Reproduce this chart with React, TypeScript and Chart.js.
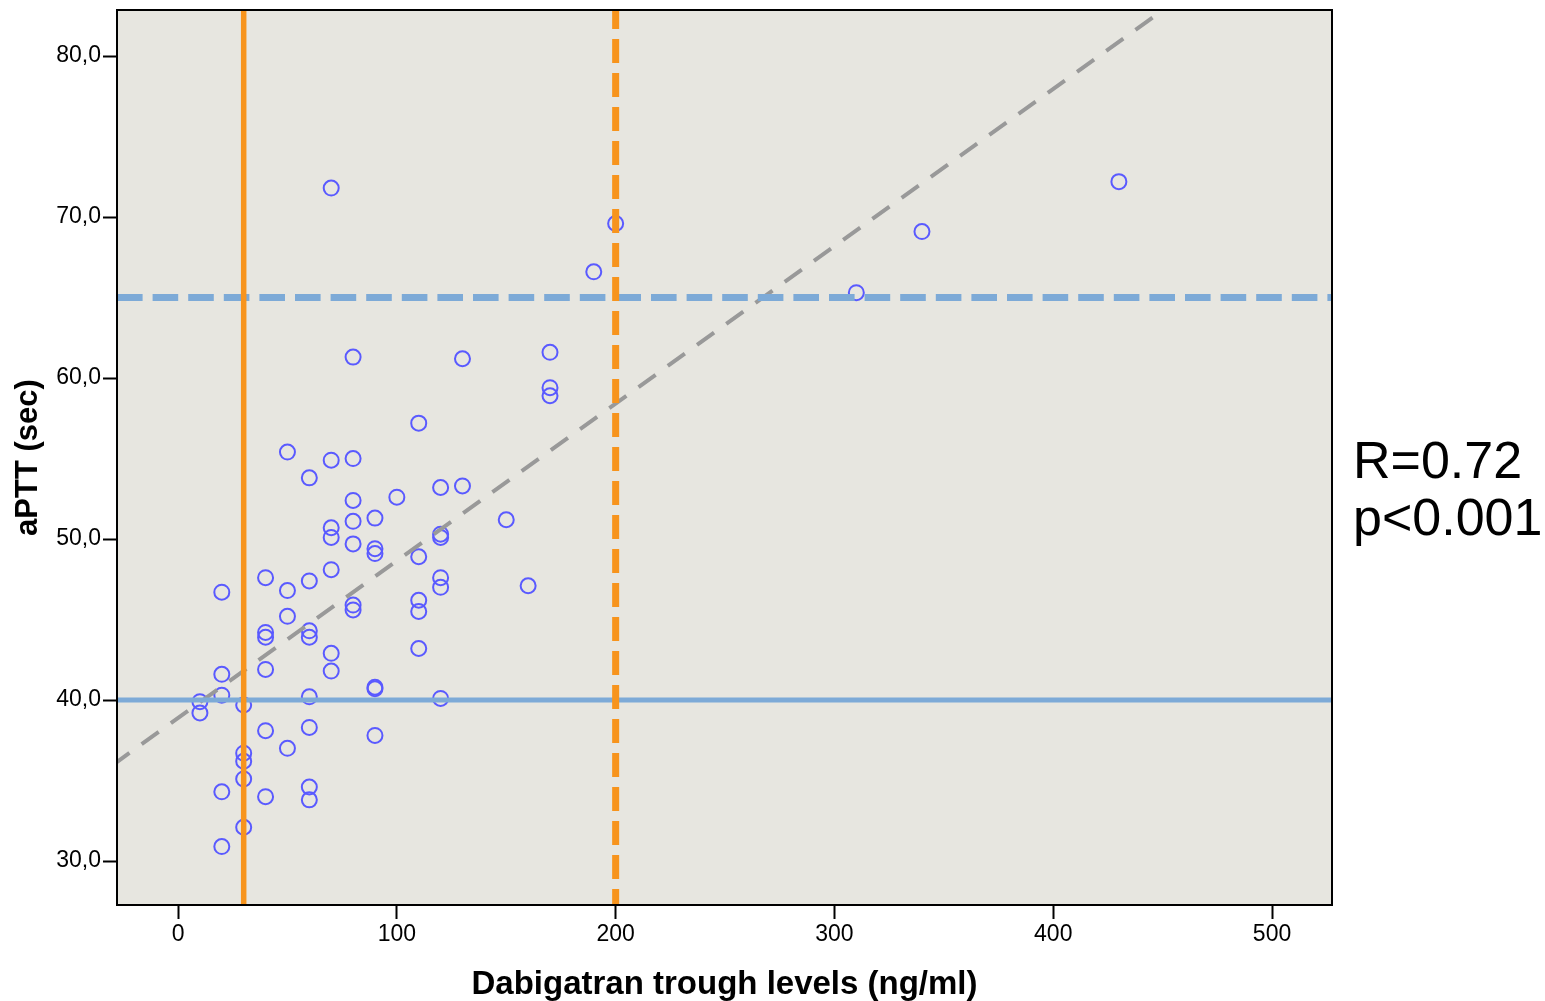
import { useEffect, useRef } from 'react';
import { Chart, registerables } from 'chart.js';

Chart.register(...registerables);

// Dabigatran trough levels (ng/ml) and matching aPTT (sec)
const LEVELS = [
  10, 10,
  20, 20, 20, 20, 20,
  30, 30, 30, 30, 30,
  40, 40, 40, 40, 40, 40,
  50, 50, 50, 50,
  60, 60, 60, 60, 60, 60, 60, 60,
  70, 70, 70, 70, 70, 70, 70,
  80, 80, 80, 80, 80, 80, 80,
  90, 90, 90, 90, 90, 90,
  100,
  110, 110, 110, 110, 110,
  120, 120, 120, 120, 120, 120,
  130, 130,
  150,
  160,
  170, 170, 170,
  190,
  200,
  310,
  340,
  430,
];
const APTT = [
  39.9, 39.2,
  46.7, 41.6, 40.3, 34.3, 30.9,
  39.7, 36.7, 36.2, 35.1, 32.1,
  47.6, 44.2, 43.9, 41.9, 38.1, 34.0,
  55.4, 46.8, 45.2, 37.0,
  53.8, 47.4, 44.3, 43.9, 40.2, 38.3, 34.6, 33.8,
  71.8, 54.9, 50.7, 50.1, 48.1, 42.9, 41.8,
  61.3, 55.0, 52.4, 51.1, 49.7, 45.9, 45.6,
  51.3, 49.4, 49.1, 40.8, 40.7, 37.8,
  52.6,
  57.2, 48.9, 46.2, 45.5, 43.2,
  53.2, 50.3, 50.1, 47.6, 47.0, 40.1,
  61.2, 53.3,
  51.2,
  47.1,
  61.6, 59.4, 58.9,
  66.6,
  69.6,
  65.3,
  69.1,
  72.2,
];

// fit line endpoints
const FIT_X = [-30, 530];
const FIT_Y = [35.95, 90.66];

// reference limits
const LEVEL_LOW = 30;
const LEVEL_HIGH = 200;
const APTT_LOW = 40;
const APTT_HIGH = 65;

const X_TICKS = [0, 100, 200, 300, 400, 500];
const Y_TICKS = [30, 40, 50, 60, 70, 80];
const X_MIN = -27.9;
const X_MAX = 527.4;
const Y_MIN = 27.27;
const Y_MAX = 82.86;

const X_TITLE = 'Dabigatran trough levels (ng/ml)';
const Y_TITLE = 'aPTT (sec)';
const STATS = ['R=0.72', 'p<0.001'];

const FONT = '"Liberation Sans", Arial, Helvetica, sans-serif';
const ORANGE = '#F7941D';
const LIGHT_BLUE = '#7DAAD7';

export default function App() {
  const canvasRef = useRef<HTMLCanvasElement | null>(null);

  useEffect(() => {
    const canvas = canvasRef.current;
    if (!canvas) return;

    const bgPlugin = {
      id: 'plotBg',
      beforeDraw(chart: any) {
        const { ctx, chartArea } = chart;
        ctx.save();
        ctx.fillStyle = '#E7E6E0';
        ctx.fillRect(chartArea.left, chartArea.top, chartArea.right - chartArea.left, chartArea.bottom - chartArea.top);
        ctx.restore();
      },
      afterDraw(chart: any) {
        const { ctx, chartArea } = chart;
        ctx.save();
        ctx.strokeStyle = '#000';
        ctx.lineWidth = 2;
        ctx.strokeRect(chartArea.left, chartArea.top, chartArea.right - chartArea.left, chartArea.bottom - chartArea.top);
        ctx.fillStyle = '#000';
        ctx.font = `52px ${FONT}`;
        ctx.textAlign = 'left';
        ctx.textBaseline = 'alphabetic';
        ctx.fillText(STATS[0], chartArea.right + 21, 478);
        ctx.fillText(STATS[1], chartArea.right + 21, 535);
        ctx.restore();
      },
    };

    const points = LEVELS.map((x, i) => ({ x, y: APTT[i] }));

    const chart = new Chart(canvas, {
      type: 'scatter',
      data: {
        datasets: [
          {
            label: 'lower level',
            data: [{ x: LEVEL_LOW, y: Y_MIN }, { x: LEVEL_LOW, y: Y_MAX }],
            showLine: true,
            borderColor: ORANGE,
            borderWidth: 5.5,
            pointRadius: 0,
            clip: 0,
            order: 0,
          },
          {
            label: 'upper level',
            data: [{ x: LEVEL_HIGH, y: Y_MAX }, { x: LEVEL_HIGH, y: Y_MIN }],
            showLine: true,
            borderColor: ORANGE,
            borderWidth: 7,
            borderDash: [24, 10],
            borderDashOffset: 5,
            pointRadius: 0,
            clip: 0,
            order: 0,
          },
          {
            label: 'upper aPTT',
            data: [{ x: X_MIN, y: APTT_HIGH }, { x: X_MAX, y: APTT_HIGH }],
            showLine: true,
            borderColor: LIGHT_BLUE,
            borderWidth: 7,
            borderDash: [25.6, 10],
            pointRadius: 0,
            clip: 0,
            order: 0,
          },
          {
            label: 'lower aPTT',
            data: [{ x: X_MIN, y: APTT_LOW }, { x: X_MAX, y: APTT_LOW }],
            showLine: true,
            borderColor: LIGHT_BLUE,
            borderWidth: 5,
            pointRadius: 0,
            clip: 0,
            order: 0,
          },
          {
            label: 'fit',
            data: FIT_X.map((x, i) => ({ x, y: FIT_Y[i] })),
            showLine: true,
            borderColor: '#999999',
            borderWidth: 4,
            borderDash: [21, 15],
            pointRadius: 0,
            clip: 0,
            order: 1,
          },
          {
            label: 'patients',
            data: points,
            showLine: false,
            pointRadius: 7.5,
            pointBorderWidth: 2,
            pointBorderColor: '#5A5AFF',
            pointBackgroundColor: 'rgba(0,0,0,0)',
            pointHoverRadius: 7.5,
            order: 2,
          },
        ],
      },
      options: {
        animation: false,
        responsive: false,
        events: [],
        layout: { padding: { top: 10, right: 213, bottom: 0, left: 0 } },
        plugins: {
          legend: { display: false },
          tooltip: { enabled: false },
          title: { display: false },
        },
        scales: {
          x: {
            type: 'linear',
            position: 'bottom',
            min: X_MIN,
            max: X_MAX,
            afterBuildTicks: (scale: any) => {
              scale.ticks = X_TICKS.map((v) => ({ value: v }));
            },
            afterFit: (scale: any) => {
              scale.height = 96;
              scale.paddingLeft = 0;
              scale.paddingRight = 0;
            },
            border: { display: false },
            grid: {
              drawOnChartArea: false,
              drawTicks: true,
              tickLength: 14,
              tickWidth: 2,
              tickColor: '#000',
            },
            ticks: {
              color: '#000',
              padding: 2,
              font: { family: FONT, size: 23 },
              callback: (v: any) => String(v),
            },
            title: {
              display: true,
              text: X_TITLE,
              color: '#000',
              font: { family: FONT, size: 33, weight: 'bold' },
              padding: { top: 0, bottom: -4 },
            },
          },
          y: {
            type: 'linear',
            position: 'left',
            min: Y_MIN,
            max: Y_MAX,
            afterBuildTicks: (scale: any) => {
              scale.ticks = Y_TICKS.map((v) => ({ value: v }));
            },
            afterFit: (scale: any) => {
              scale.width = 117;
              scale.paddingTop = 0;
              scale.paddingBottom = 0;
            },
            border: { display: false },
            grid: {
              drawOnChartArea: false,
              drawTicks: true,
              tickLength: 14,
              tickWidth: 2,
              tickColor: '#000',
            },
            ticks: {
              color: '#000',
              padding: 2,
              font: { family: FONT, size: 23 },
              callback: (v: any) => Number(v).toFixed(1).replace('.', ','),
            },
            title: {
              display: true,
              text: Y_TITLE,
              color: '#000',
              font: { family: FONT, size: 31, weight: 'bold' },
              padding: { top: 10, bottom: 0 },
            },
          },
        },
      },
      plugins: [bgPlugin],
    } as any);

    return () => {
      chart.destroy();
    };
  }, []);

  return (
    <canvas
      ref={canvasRef}
      width={1545}
      height={1001}
      style={{ position: 'absolute', left: 0, top: 0, width: 1545, height: 1001 }}
    />
  );
}
